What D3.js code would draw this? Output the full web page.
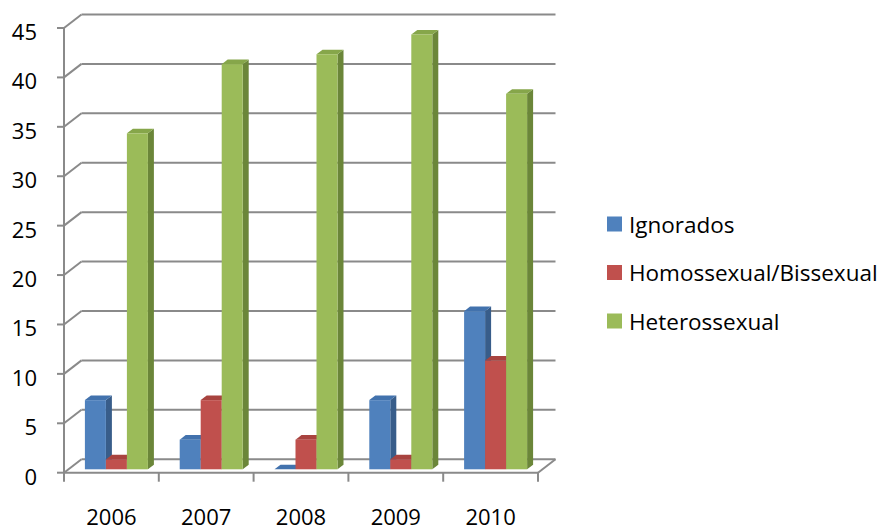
<!DOCTYPE html>
<html><head><meta charset="utf-8">
<script src="https://cdn.jsdelivr.net/npm/d3@7"></script>
<style>body{margin:0;background:#fff}svg{display:block}text{font-family:"Open Sans",sans-serif;fill:#000}</style>
</head><body>
<svg id="c" width="885" height="527"></svg>
<script>
const categories = ["2006","2007","2008","2009","2010"];
const seriesNames = ["Ignorados","Homossexual/Bissexual","Heterossexual"];
const ignorados = [7,3,0,7,16];
const homoBi = [1,7,3,1,11];
const hetero = [34,41,42,44,38];
const yTicks = [0,5,10,15,20,25,30,35,40,45];
const seriesValues = [ignorados, homoBi, hetero];
const colors = [
  {front:"#4F81BD", side:"#385D8A", top:"#4272AD"},
  {front:"#C0504D", side:"#8C3A38", top:"#A8433F"},
  {front:"#9BBB59", side:"#6B8639", top:"#86A64A"}
];

const svg = d3.select("#c");
const x0 = 64, x1 = 538, yFront0 = 472.7, yFront45 = 28;
const wallDx = 17.5, wallDy = -13.5;
const x = d3.scaleBand().domain(categories).range([x0, x1]);
const y = d3.scaleLinear().domain([0,45]).range([yFront0, yFront45]);
const xs = d3.scaleBand().domain(seriesNames).range([16.6, 79.6]);
// bars' front plane depth
const barDx = 4.3, barDy = -3.4;
const depthDx = 6, depthDy = -4.6;
const gridColor = "#8a8a8a";

const g = svg.append("g");
// gridlines: back wall + left diagonal
yTicks.forEach(t => {
  const yf = y(t);
  g.append("line").attr("x1", x0 + wallDx).attr("x2", x1 + wallDx)
    .attr("y1", yf + wallDy).attr("y2", yf + wallDy)
    .attr("stroke", gridColor).attr("stroke-width", 2);
  g.append("line").attr("x1", x0).attr("y1", yf).attr("x2", x0 + wallDx).attr("y2", yf + wallDy)
    .attr("stroke", gridColor).attr("stroke-width", 2);
  g.append("line").attr("x1", x0 - 7).attr("x2", x0).attr("y1", yf).attr("y2", yf)
    .attr("stroke", gridColor).attr("stroke-width", 2);
});
// floor front edge and right diagonal
g.append("line").attr("x1", x0).attr("x2", x1).attr("y1", y(0)).attr("y2", y(0))
  .attr("stroke", gridColor).attr("stroke-width", 2);
g.append("line").attr("x1", x1).attr("y1", y(0)).attr("x2", x1 + wallDx).attr("y2", y(0) + wallDy)
  .attr("stroke", gridColor).attr("stroke-width", 2);
// vertical axis
g.append("line").attr("x1", x0).attr("x2", x0).attr("y1", y(45)).attr("y2", y(0))
  .attr("stroke", gridColor).attr("stroke-width", 2);
// category ticks
categories.concat(["end"]).forEach((c, i) => {
  const xx = i < categories.length ? x(c) : x1;
  g.append("line").attr("x1", xx).attr("x2", xx).attr("y1", y(0)).attr("y2", y(0) + 9)
    .attr("stroke", gridColor).attr("stroke-width", 2);
});

// y labels
yTicks.forEach(t => {
  g.append("text").attr("x", 37).attr("y", y(t) + 3).attr("text-anchor", "end")
    .attr("dominant-baseline", "central").attr("font-size", 22).text(t);
});
// x labels
categories.forEach(c => {
  g.append("text").attr("x", x(c) + x.bandwidth()/2).attr("y", 516)
    .attr("text-anchor", "middle").attr("dominant-baseline", "central")
    .attr("font-size", 22).text(c);
});

// bars
const bars = svg.append("g");
categories.forEach((c, ci) => {
  seriesNames.forEach((s, si) => {
    const v = seriesValues[si][ci];
    const bx = x(c) + xs(s) + barDx;
    const bw = xs.bandwidth();
    const yb = y(0) + barDy;
    const yt = y(v) + barDy;
    const col = colors[si];
    // side face
    bars.append("path").attr("d",
      `M${bx+bw},${yt}L${bx+bw+depthDx},${yt+depthDy}L${bx+bw+depthDx},${yb+depthDy}L${bx+bw},${yb}Z`)
      .attr("fill", col.side);
    // top face
    bars.append("path").attr("d",
      `M${bx},${yt}L${bx+depthDx},${yt+depthDy}L${bx+bw+depthDx},${yt+depthDy}L${bx+bw},${yt}Z`)
      .attr("fill", col.top);
    // front face
    bars.append("rect").attr("x", bx).attr("y", yt).attr("width", bw).attr("height", Math.max(0, yb - yt))
      .attr("fill", col.front);
  });
});

// legend
const leg = svg.append("g");
const legY = [224, 272.5, 321];
seriesNames.forEach((s, i) => {
  leg.append("rect").attr("x", 607).attr("y", legY[i] - 7.5).attr("width", 15).attr("height", 15)
    .attr("fill", colors[i].front);
  leg.append("text").attr("x", 629).attr("y", legY[i]).attr("dominant-baseline", "central")
    .attr("font-size", 22.5).text(s);
});
</script>
</body></html>
